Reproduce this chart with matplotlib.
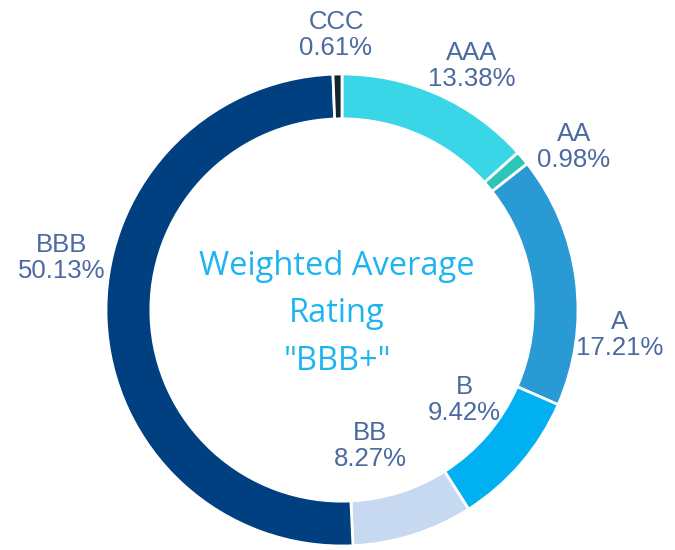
import matplotlib
matplotlib.use("Agg")
import matplotlib.pyplot as plt

ratings = ["AAA", "AA", "A", "B", "BB", "BBB", "CCC"]
shares = [13.38, 0.98, 17.21, 9.42, 8.27, 50.13, 0.61]
center_text = 'Weighted Average\nRating\n"BBB+"'

colors = ["#38D6E6", "#2EC4B6", "#2A9AD5", "#00B0F0", "#C6D9F0", "#003F80", "#14252f"]
# label centres in pixel coords (x, y from top)
label_pos = [(472, 66), (574, 147), (620, 335), (464, 400), (370, 446), (62, 258), (336, 35)]

fig = plt.figure(figsize=(6.75, 5.5), dpi=100)
ax = fig.add_axes([0, 0, 1, 1])

R = 236
ax.pie(shares, colors=colors, startangle=90, counterclock=False,
       center=(342, 550 - 310), radius=R, frame=True,
       wedgeprops=dict(width=R * 0.19, edgecolor="white", linewidth=2))
ax.set_xlim(0, 675)
ax.set_ylim(0, 550)
ax.set_aspect("equal")
ax.axis("off")

for name, val, (x, y) in zip(ratings, shares, label_pos):
    ax.text(x, 550 - y, f"{name}\n{val:.2f}%", ha="center", va="center",
            fontsize=18.5, color="#4A6AA0", family="Liberation Sans", linespacing=1.08)

ax.text(337, 550 - 314, center_text, ha="center", va="center", fontsize=23.5,
        color="#1EB4F0", family="Open Sans", linespacing=1.58)

fig.savefig("out.png", dpi=100)
